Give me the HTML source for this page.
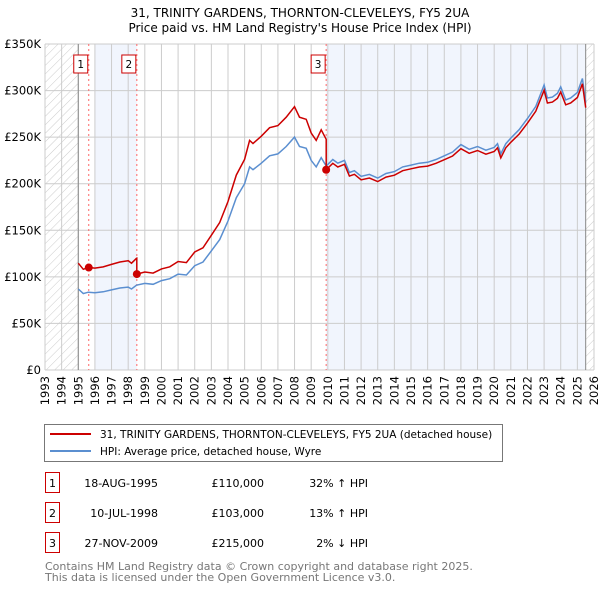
<!DOCTYPE html>
<html><head><meta charset="utf-8"><style>
body{margin:0;background:#fff;width:600px;height:590px;overflow:hidden;font-family:"DejaVu Sans","Liberation Sans",sans-serif;}
svg text{font-family:"DejaVu Sans","Liberation Sans",sans-serif;}
</style></head><body>
<svg id="c" width="600" height="590" xmlns="http://www.w3.org/2000/svg">
<defs><pattern id="hatch" width="6" height="6" patternUnits="userSpaceOnUse" patternTransform="rotate(45)"><line x1="0" y1="0" x2="0" y2="6" stroke="#ccc" stroke-width="1"/></pattern></defs>
<text x="300" y="17" text-anchor="middle" font-size="12">31, TRINITY GARDENS, THORNTON-CLEVELEYS, FY5 2UA</text>
<text x="300" y="32" text-anchor="middle" font-size="12">Price paid vs. HM Land Registry's House Price Index (HPI)</text>
<g id="plot"></g>
<rect x="44.5" y="424.5" width="458" height="37" fill="#fff" stroke="#777"/>
<line x1="50" y1="434" x2="91" y2="434" stroke="#cc0000" stroke-width="2"/>
<text x="100" y="438" font-size="10.5">31, TRINITY GARDENS, THORNTON-CLEVELEYS, FY5 2UA (detached house)</text>
<line x1="50" y1="451" x2="91" y2="451" stroke="#5b8fd0" stroke-width="2"/>
<text x="100" y="455" font-size="10.5">HPI: Average price, detached house, Wyre</text>
<g id="tbl" font-size="11"></g>
<text x="45" y="570" font-size="11" fill="#777">Contains HM Land Registry data © Crown copyright and database right 2025.</text>
<text x="45" y="581" font-size="11" fill="#777">This data is licensed under the Open Government Licence v3.0.</text>
</svg>
<script>
const hpiYears=[1995.0,1995.3,1995.6,1996,1996.5,1997,1997.5,1998,1998.2,1998.5,1999,1999.5,2000,2000.5,2001,2001.5,2002,2002.5,2003,2003.5,2004,2004.5,2005,2005.3,2005.5,2006,2006.5,2007,2007.5,2008,2008.3,2008.7,2009,2009.3,2009.6,2009.9,2010.3,2010.6,2011,2011.3,2011.6,2012,2012.5,2013,2013.5,2014,2014.5,2015,2015.5,2016,2016.5,2017,2017.5,2018,2018.5,2019,2019.5,2020,2020.2,2020.4,2020.7,2021,2021.5,2022,2022.5,2023,2023.2,2023.5,2023.8,2024,2024.3,2024.6,2025,2025.3,2025.5];
const hpiValues=[87,82,83.5,83,84,86,88,89,87,91,93,92,96,98,103,102,112,116,128,140,160,185,200,218,215,222,230,232,240,250,240,238,225,218,228,219,226,222,225,212,214,208,210,206,211,213,218,220,222,223,226,230,234,242,237,240,236,239,243,232,243,249,258,270,283,306,292,293,297,304,290,292,298,313,287];
const saleYears=[1995.63,1998.52,2009.9];
const salePrices=[110,103,215];
const saleLabels=["1","2","3"];
const saleDates=["18-AUG-1995","10-JUL-1998","27-NOV-2009"];
const salePriceText=["£110,000","£103,000","£215,000"];
const saleDiff=["32% ↑ HPI","13% ↑ HPI","2% ↓ HPI"];
const yTicks=[0,50,100,150,200,250,300,350];
const yTickLabels=["£0","£50K","£100K","£150K","£200K","£250K","£300K","£350K"];
const xYears=[1993,1994,1995,1996,1997,1998,1999,2000,2001,2002,2003,2004,2005,2006,2007,2008,2009,2010,2011,2012,2013,2014,2015,2016,2017,2018,2019,2020,2021,2022,2023,2024,2025,2026];

const X0=45,X1=594,Y0=370,Y1=44;
const xs=y=>X0+(y-1993)/33*(X1-X0);
const ys=v=>Y0-v/350*(Y0-Y1);
const NS="http://www.w3.org/2000/svg";
const plot=document.getElementById('plot');
function mk(tag,attrs,parent){const e=document.createElementNS(NS,tag);for(const k in attrs)e.setAttribute(k,attrs[k]);(parent||plot).appendChild(e);return e;}
function hpiAt(t){for(let i=0;i<hpiYears.length-1;i++){if(t<=hpiYears[i+1]){const f=(t-hpiYears[i])/(hpiYears[i+1]-hpiYears[i]);return hpiValues[i]+f*(hpiValues[i+1]-hpiValues[i]);}}return hpiValues[hpiValues.length-1];}

let e;
e=mk('rect',{x:X0,y:Y1,width:X1-X0,height:Y0-Y1,fill:'#fff'});


e=mk('rect',{x:xs(1996),y:Y1,width:xs(saleYears[1])-xs(1996),height:Y0-Y1,fill:'#eef3fc',opacity:0.8});


e=mk('rect',{x:xs(saleYears[2]),y:Y1,width:xs(2025.5)-xs(saleYears[2]),height:Y0-Y1,fill:'#eef3fc',opacity:0.8});


e=mk('rect',{x:X0,y:Y1,width:xs(1995)-X0,height:Y0-Y1,fill:'url(#hatch)'});


e=mk('rect',{x:xs(2025.5),y:Y1,width:X1-xs(2025.5),height:Y0-Y1,fill:'url(#hatch)'});



xYears.forEach(y=>{const l=mk('line',{x1:xs(y),x2:xs(y),y1:Y1,y2:Y0,stroke:'#ccc','stroke-width':1});


const t=mk('text',{x:0,y:0,'font-size':11.5,'text-anchor':'end',transform:`translate(${xs(y)+4},${Y0+6}) rotate(-90)`});t.textContent=y;

});
yTicks.forEach((v,i)=>{const l=mk('line',{x1:X0,x2:X1,y1:ys(v),y2:ys(v),stroke:'#ccc','stroke-width':1});


const t=mk('text',{x:X0-4,y:ys(v)+4,'font-size':11.5,'text-anchor':'end'});t.textContent=yTickLabels[i];

});
e=mk('line',{x1:xs(1995),x2:xs(1995),y1:Y1,y2:Y0,stroke:'#888'});


e=mk('line',{x1:xs(2025.5),x2:xs(2025.5),y1:Y1,y2:Y0,stroke:'#888'});



saleYears.forEach((y,i)=>{const l=mk('line',{x1:xs(y),x2:xs(y),y1:Y1,y2:Y0,stroke:'#ff6666','stroke-dasharray':'2,3'});

});

e=mk('path',{d:hpiYears.map((y,i)=>(i?'L':'M')+xs(y).toFixed(1)+','+ys(hpiValues[i]).toFixed(1)).join(''),fill:'none',stroke:'#5b8fd0','stroke-width':1.5});


const ratios=saleYears.map((y,i)=>salePrices[i]/hpiAt(y));
let d='';
hpiYears.forEach((y,i)=>{let k=0;for(let j=0;j<saleYears.length;j++)if(y>=saleYears[j])k=j;
if(i>0){const prev=hpiYears[i-1];for(let j=0;j<saleYears.length;j++){if(saleYears[j]>prev&&saleYears[j]<=y){const kp=Math.max(0,j-1);d+='L'+xs(saleYears[j]).toFixed(1)+','+ys(hpiAt(saleYears[j])*ratios[kp]).toFixed(1);d+='L'+xs(saleYears[j]).toFixed(1)+','+ys(salePrices[j]).toFixed(1);}}}
d+=(i?'L':'M')+xs(y).toFixed(1)+','+ys(hpiValues[i]*ratios[k]).toFixed(1);});
e=mk('path',{d:d,fill:'none',stroke:'#cc0000','stroke-width':1.5});



saleYears.forEach((y,i)=>{const c=mk('circle',{cx:xs(y),cy:ys(salePrices[i]),r:4,fill:'#cc0000'});


const g=mk('g',{});


mk('rect',{x:xs(y)-15,y:55,width:14,height:18,fill:'#fff',stroke:'#cc0000'},g);
const t=mk('text',{x:xs(y)-8,y:68,'font-size':10.5,'text-anchor':'middle'},g);t.textContent=saleLabels[i];});

const tbl=document.getElementById('tbl');
saleYears.forEach((y,i)=>{const yy=483+i*30;
const g=mk('g',{},tbl);


mk('rect',{x:45.5,y:yy-10.5,width:14,height:20,fill:'#fff',stroke:'#cc0000'},g);
let t=mk('text',{x:52.5,y:yy+4,'text-anchor':'middle'},g);t.textContent=saleLabels[i];
t=mk('text',{x:158,y:yy+4,'text-anchor':'end'},g);t.textContent=saleDates[i];
t=mk('text',{x:264,y:yy+4,'text-anchor':'end'},g);t.textContent=salePriceText[i];
t=mk('text',{x:368,y:yy+4,'text-anchor':'end'},g);t.textContent=saleDiff[i];});
</script>
</body></html>
